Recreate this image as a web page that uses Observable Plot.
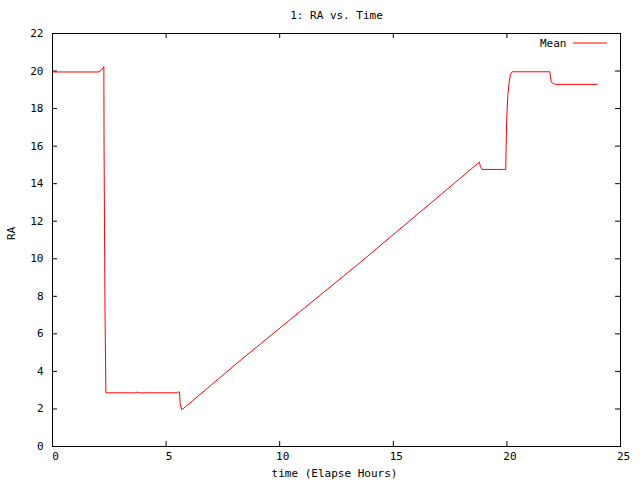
<!DOCTYPE html>
<html>
<head>
<meta charset="utf-8">
<script src="https://cdn.jsdelivr.net/npm/d3@7"></script>
<script src="https://cdn.jsdelivr.net/npm/@observablehq/plot@0.6"></script>
<style>
  html, body { margin: 0; padding: 0; background: #fff; }
  #chart svg { display: block; }
</style>
</head>
<body>
<div id="chart"></div>
<script>
// Elapsed time (hours)
const time = [0, 2.05, 2.12, 2.20, 2.26, 2.27, 2.29, 2.31, 2.35, 2.40, 3.65, 3.72, 3.80,
  5.47, 5.50, 5.59, 5.62, 5.69, 8.32, 13.56, 18.79, 18.83, 18.90, 19.95, 19.96, 19.99,
  20.04, 20.10, 20.16, 20.23, 21.89, 21.95, 22.00, 22.14, 23.97];
// Mean RA (hours)
const ra = [19.95, 19.95, 20.05, 20.10, 20.24, 16.0, 11.5, 7.3, 2.86, 2.86, 2.86, 2.90, 2.86,
  2.86, 2.90, 2.90, 2.30, 1.95, 4.64, 9.82, 15.15, 14.93, 14.76, 14.76, 15.63, 17.42,
  18.68, 19.41, 19.86, 19.96, 19.96, 19.41, 19.37, 19.29, 19.29];
const xTicks = [0, 5, 10, 15, 20, 25];
const yTicks = [0, 2, 4, 6, 8, 10, 12, 14, 16, 18, 20, 22];
const title = "1: RA vs. Time";
const xLabel = "time (Elapse Hours)";
const yLabel = "RA";
const seriesName = "Mean";

const data = time.map((t, i) => ({t, ra: ra[i]}));

const W = 640, H = 480, mt = 33, mr = 20, mb = 34, ml = 52;
const pw = W - ml - mr, ph = H - mt - mb, tk = 5;

const plot = Plot.plot({
  width: W, height: H,
  marginTop: mt, marginRight: mr, marginBottom: mb, marginLeft: ml,
  style: {fontFamily: "DejaVu Sans Mono", fontSize: "11px", background: "#fff", color: "#000"},
  x: {domain: [0, 25]},
  y: {domain: [0, 22]},
  marks: [
    Plot.frame({stroke: "#000"}),
    Plot.tickX(xTicks, {x: d => d, insetTop: ph - tk, stroke: "#000"}),
    Plot.tickX(xTicks, {x: d => d, insetBottom: ph - tk, stroke: "#000"}),
    Plot.tickY(yTicks, {y: d => d, insetRight: pw - tk, stroke: "#000"}),
    Plot.tickY(yTicks, {y: d => d, insetLeft: pw - tk, stroke: "#000"}),
    Plot.axisX({ticks: xTicks, tickSize: 0, tickPadding: 6, dx: 3, label: null, tickFormat: d => String(d)}),
    Plot.axisY({ticks: yTicks, tickSize: 0, tickPadding: 9, label: null, tickFormat: d => String(d)}),
    Plot.line(data, {x: "t", y: "ra", stroke: "#ff0000", strokeWidth: 1}),
    Plot.text([title], {frameAnchor: "top", lineAnchor: "middle", dy: -18, text: d => d, fill: "#000"}),
    Plot.text([xLabel], {frameAnchor: "bottom", lineAnchor: "middle", dy: 27, dx: -2, text: d => d, fill: "#000"}),
    Plot.text([yLabel], {frameAnchor: "left", dx: -41, rotate: -90, text: d => d, fill: "#000"}),
    Plot.text([seriesName], {frameAnchor: "top-right", lineAnchor: "middle", dx: -54, dy: 10, textAnchor: "end", text: d => d, fill: "#000"})
  ]
});

// legend swatch line
d3.select(plot).append("line")
  .attr("x1", W - mr - 47).attr("x2", W - mr - 13)
  .attr("y1", mt + 10).attr("y2", mt + 10)
  .attr("stroke", "#ff0000").attr("stroke-width", 1);

document.getElementById("chart").appendChild(plot);
</script>
</body>
</html>
